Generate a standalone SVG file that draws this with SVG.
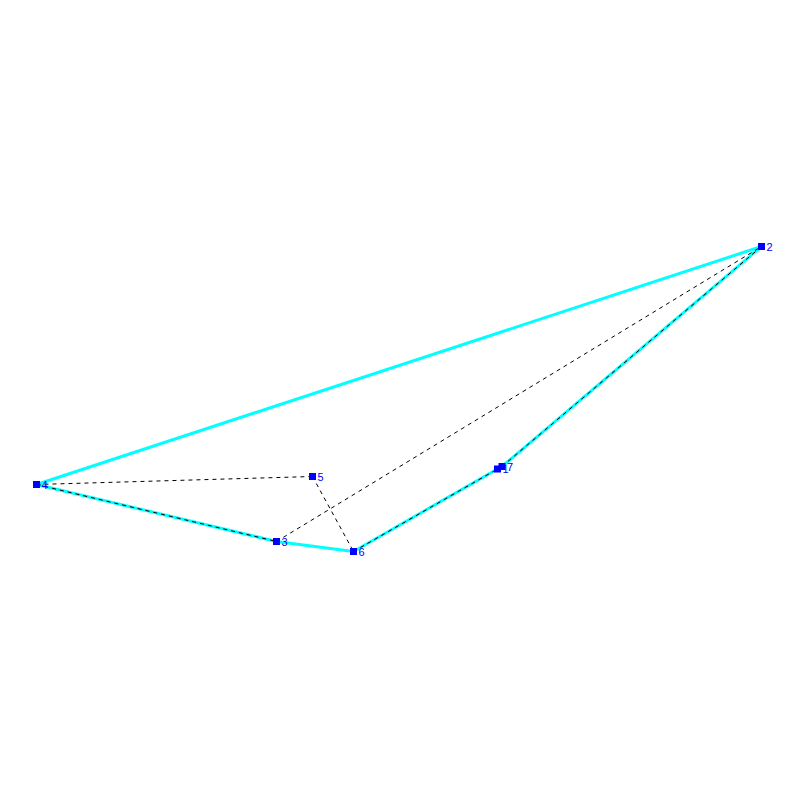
<svg xmlns="http://www.w3.org/2000/svg" width="800" height="800" viewBox="0 0 800 800">
<style>
.edge{stroke:#00ffff;stroke-width:3;fill:none}
.dash{stroke:#000;stroke-width:1;stroke-dasharray:4,4;fill:none}
.node rect{fill:#0000ff}
.node text{font-family:"Liberation Sans",Arial,sans-serif;font-size:11px;fill:#0000ff}
</style>
<rect width="800" height="800" fill="#fff"/>
<g id="connectors">
<line class="edge" x1="36.5" y1="484.5" x2="761.5" y2="246.5"/>
<line class="edge" x1="761.5" y1="246.5" x2="502" y2="466.5"/>
<line class="edge" x1="497.5" y1="469" x2="353.5" y2="551.5"/>
<line class="edge" x1="353.5" y1="551.5" x2="276.5" y2="541.5"/>
<line class="edge" x1="276.5" y1="541.5" x2="36.5" y2="484.5"/>
<line class="dash" x1="36.5" y1="484.5" x2="312.5" y2="476.5"/>
<line class="dash" x1="312.5" y1="476.5" x2="353.5" y2="551.5"/>
<line class="dash" x1="36.5" y1="484.5" x2="276.5" y2="541.5"/>
<line class="dash" x1="276.5" y1="541.5" x2="761.5" y2="246.5"/>
<line class="dash" x1="353.5" y1="551.5" x2="497.5" y2="469"/>
<line class="dash" x1="502" y1="466.5" x2="761.5" y2="246.5"/>
</g>
<g id="node1" class="node"><rect x="494" y="465.5" width="7" height="7"/><text x="502.5" y="473">1</text></g>
<g id="node2" class="node"><rect x="758" y="243" width="7" height="7"/><text x="766.5" y="250.5">2</text></g>
<g id="node3" class="node"><rect x="273" y="538" width="7" height="7"/><text x="281.5" y="545.5">3</text></g>
<g id="node4" class="node"><rect x="33" y="481" width="7" height="7"/><text x="41.5" y="488.5">4</text></g>
<g id="node5" class="node"><rect x="309" y="473" width="7" height="7"/><text x="317.5" y="480.5">5</text></g>
<g id="node6" class="node"><rect x="350" y="548" width="7" height="7"/><text x="358.5" y="555.5">6</text></g>
<g id="node7" class="node"><rect x="498.5" y="463" width="7" height="7"/><text x="507" y="470.5">7</text></g>
</svg>
